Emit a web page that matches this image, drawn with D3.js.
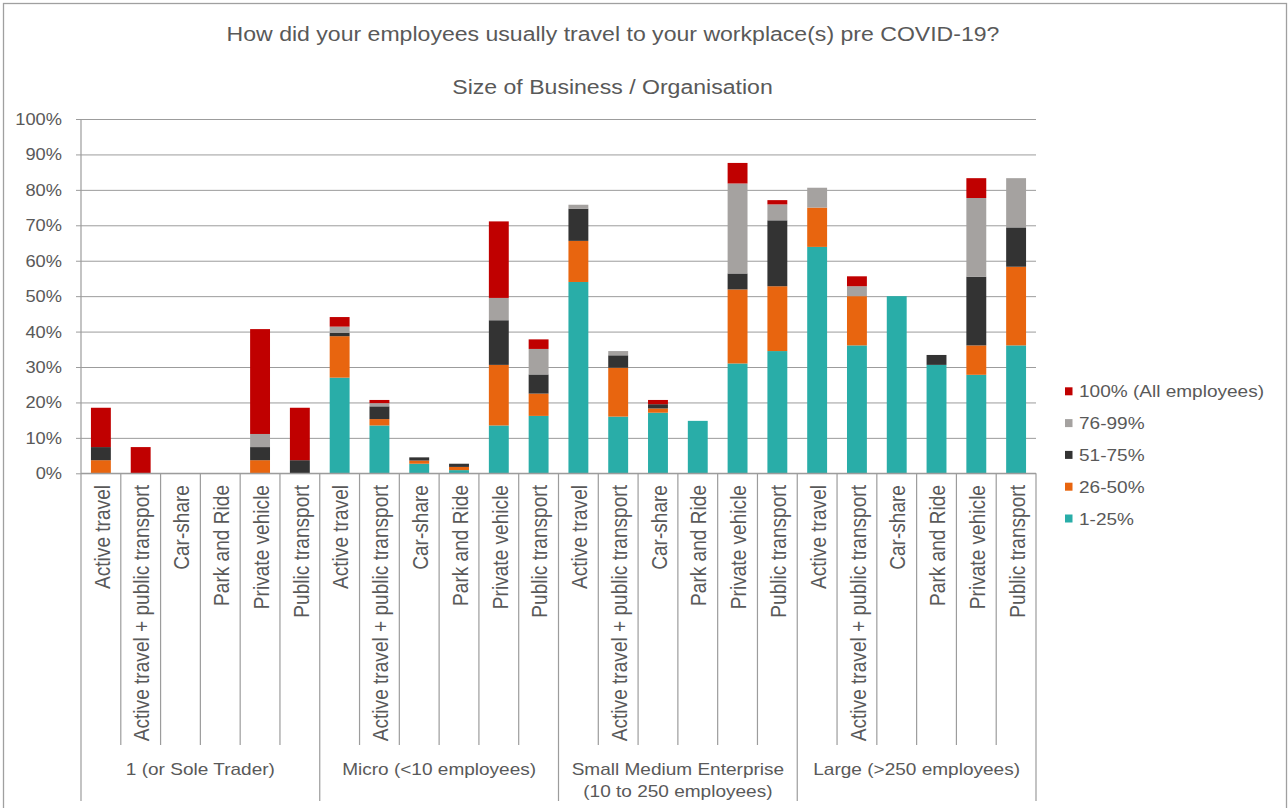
<!DOCTYPE html>
<html>
<head>
<meta charset="utf-8">
<script src="https://cdn.jsdelivr.net/npm/d3@7"></script>
<style>
  html, body { margin: 0; padding: 0; background: #fff; }
  svg { display: block; font-family: "Liberation Sans", Arial, sans-serif; }
</style>
</head>
<body>
<svg id="chart" width="1288" height="808"></svg>
<script>
// Business size groups and travel modes (one bar per mode within each group)
const groups = [
  ["1 (or Sole Trader)"],
  ["Micro (<10 employees)"],
  ["Small Medium Enterprise", "(10 to 250 employees)"],
  ["Large (>250 employees)"]
];
const modes = ["Active travel", "Active travel + public transport", "Car-share",
               "Park and Ride", "Private vehicle", "Public transport"];

// Share of businesses (%) by proportion of employees using each mode.
// 24 values each: 6 modes x 4 groups, in group order.
const pct1to25 = [
  0, 0, 0, 0, 0, 0,
  27.0, 13.5, 2.7, 0.9, 13.5, 16.2,
  54.0, 16.0, 17.1, 14.8, 31.0, 34.5,
  63.9, 36.1, 50.0, 30.6, 27.8, 36.1
];
const pct26to50 = [
  3.7, 0, 0, 0, 3.7, 0,
  11.7, 1.8, 0.9, 0.9, 17.1, 6.3,
  11.6, 13.8, 1.2, 0, 20.9, 18.3,
  11.1, 13.9, 0, 0, 8.3, 22.2
];
const pct51to75 = [
  3.7, 0, 0, 0, 3.7, 3.7,
  0.9, 3.6, 0.9, 0.9, 12.6, 5.4,
  9.1, 3.5, 1.2, 0, 4.5, 18.6,
  0, 0, 0, 2.8, 19.4, 11.1
];
const pct76to99 = [
  0, 0, 0, 0, 3.7, 0,
  1.8, 0.9, 0, 0, 6.3, 7.2,
  1.1, 1.2, 0, 0, 25.4, 4.5,
  5.6, 2.8, 0, 0, 22.2, 13.9
];
const pct100 = [
  11.1, 7.4, 0, 0, 29.6, 14.8,
  2.7, 0.9, 0, 0, 21.6, 2.7,
  0, 0, 1.2, 0, 5.8, 1.2,
  0, 2.8, 0, 0, 5.6, 0
];

const seriesNames = ["1-25%", "26-50%", "51-75%", "76-99%", "100% (All employees)"];
const seriesValues = [pct1to25, pct26to50, pct51to75, pct76to99, pct100];
const seriesColors = ["#29ADA8", "#E8650F", "#333333", "#A5A2A0", "#C00000"];
const yTicks = [0, 10, 20, 30, 40, 50, 60, 70, 80, 90, 100];

const titleText = "How did your employees usually travel to your workplace(s) pre COVID-19?";
const subtitleText = "Size of Business / Organisation";

// Build one row per bar
const rows = [];
groups.forEach((g, gi) => {
  modes.forEach((m, mi) => {
    const idx = gi * modes.length + mi;
    const row = { key: idx, group: gi, mode: m };
    seriesNames.forEach((s, si) => { row[s] = seriesValues[si][idx]; });
    rows.push(row);
  });
});

const svg = d3.select("#chart");
const textColor = "#595959";
const lineColor = "#9c9c9c";
const sx = 1.12;   // horizontal stretch of the lettering

const plot = { left: 81, right: 1036, top: 119, bottom: 473.3 };
const x = d3.scaleBand().domain(rows.map(r => r.key))
  .range([plot.left, plot.right]).paddingInner(0.5).paddingOuter(0.25);
const y = d3.scaleLinear().domain([0, 100]).range([plot.bottom, plot.top]);
const bandStart = i => plot.left + i * (plot.right - plot.left) / rows.length;

// Outer chart frame
svg.append("rect")
  .attr("x", 3.5).attr("y", 3.5).attr("width", 1283).attr("height", 830)
  .attr("fill", "none").attr("stroke", "#a0a0a0").attr("stroke-width", 1.3);

// Horizontal text helper (anchored, stretched horizontally)
function hText(sel, xPos, yPos, txt, size, anchor) {
  const g = sel.append("g").attr("transform", `translate(${xPos},${yPos}) scale(${sx},1)`);
  g.append("text").attr("text-anchor", anchor || "middle")
    .attr("font-size", size).attr("fill", textColor).text(txt);
  return g;
}
hText(svg, 613, 40.5, titleText, 20.6);
hText(svg, 612.5, 94, subtitleText, 20.6);

// Y axis with gridlines
const yAxis = d3.axisLeft(y).tickValues(yTicks)
  .tickSize(-(plot.right - plot.left)).tickFormat(d => d + "%").tickPadding(14);
const yg = svg.append("g").attr("transform", `translate(${plot.left},0)`).call(yAxis);
yg.select(".domain").remove();
yg.selectAll(".tick line").attr("stroke", lineColor).attr("stroke-width", 1)
  .attr("x1", -5);
yg.selectAll(".tick text").remove();
yTicks.forEach(t => hText(yg, -19, y(t) + 6, t + "%", 16.3, "end"));

// Stacked bars
const stack = d3.stack().keys(seriesNames);
const layers = stack(rows);
svg.append("g").selectAll("g").data(layers).join("g")
  .attr("fill", (d, i) => seriesColors[i])
  .selectAll("rect").data(d => d.filter(p => p[1] - p[0] > 0)).join("rect")
  .attr("x", d => x(d.data.key))
  .attr("width", x.bandwidth())
  .attr("y", d => y(d[1]))
  .attr("height", d => y(d[0]) - y(d[1]));

// Category axis: baseline, separators and labels
const axisG = svg.append("g");
axisG.append("line")
  .attr("x1", plot.left).attr("x2", plot.right)
  .attr("y1", plot.bottom).attr("y2", plot.bottom)
  .attr("stroke", lineColor).attr("stroke-width", 1.2);
axisG.append("line")
  .attr("x1", plot.left).attr("x2", plot.left)
  .attr("y1", plot.top).attr("y2", 801)
  .attr("stroke", lineColor).attr("stroke-width", 1.2);
d3.range(1, rows.length + 1).forEach(i => {
  const isGroupEdge = i % modes.length === 0;
  axisG.append("line")
    .attr("x1", bandStart(i)).attr("x2", bandStart(i))
    .attr("y1", plot.bottom).attr("y2", isGroupEdge ? 801 : 745)
    .attr("stroke", lineColor).attr("stroke-width", 1.2);
});

rows.forEach(r => {
  const cx = x(r.key) + x.bandwidth() / 2 + 1;
  const g = axisG.append("g")
    .attr("transform", `translate(${cx},485) scale(${sx},1) rotate(-90)`);
  g.append("text").attr("text-anchor", "end").attr("dy", "0.36em")
    .attr("font-size", 19.1).attr("fill", textColor).text(r.mode);
});

groups.forEach((lines, gi) => {
  const cx = (bandStart(gi * modes.length) + bandStart((gi + 1) * modes.length)) / 2;
  lines.forEach((ln, li) => hText(axisG, cx, 775 + li * 21.5, ln, 17, "middle"));
});

// Legend (top-most series first)
const legendOrder = d3.range(seriesNames.length).reverse();
const legend = svg.append("g");
legendOrder.forEach((si, k) => {
  const cy = 391.3 + k * 31.8;
  legend.append("rect").attr("x", 1065).attr("y", cy - 4).attr("width", 7.5).attr("height", 8)
    .attr("fill", seriesColors[si]);
  hText(legend, 1079, cy + 6, seriesNames[si], 17, "start");
});
</script>
</body>
</html>
